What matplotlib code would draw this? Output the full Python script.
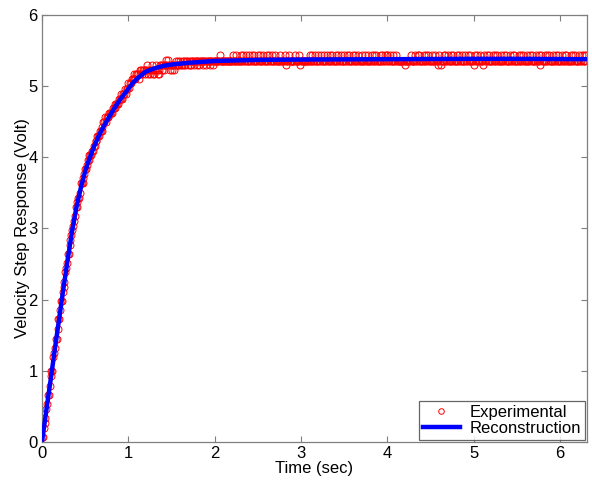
import numpy as np
import matplotlib

matplotlib.use("Agg")
import matplotlib.pyplot as plt

plt.rcParams["font.family"] = ["Liberation Sans", "DejaVu Sans"]

# ---------------------------------------------------------------------------
# Data
# ---------------------------------------------------------------------------

# Experimental samples, 0.01 s apart. Rise part typed as values (t = 0 .. 1.49 s)
SAMPLE_DT = 0.01
RISE_V = [
    0.07, 0.07, 0.20, 0.26, 0.33, 0.46, 0.53, 0.66, 0.66, 0.79,
    0.92, 0.99, 0.99, 1.19, 1.25, 1.32, 1.45, 1.45, 1.58, 1.72,
    1.72, 1.85, 1.98, 1.98, 2.11, 2.18, 2.24, 2.38, 2.44, 2.51,
    2.64, 2.64, 2.77, 2.84, 2.90, 2.97, 3.03, 3.10, 3.17, 3.30,
    3.30, 3.37, 3.43, 3.43, 3.50, 3.63, 3.63, 3.63, 3.70, 3.76,
    3.83, 3.83, 3.89, 3.96, 3.96, 4.03, 4.03, 4.03, 4.09, 4.09,
    4.16, 4.16, 4.22, 4.22, 4.29, 4.29, 4.29, 4.36, 4.36, 4.36,
    4.42, 4.49, 4.49, 4.56, 4.49, 4.56, 4.56, 4.56, 4.62, 4.62,
    4.62, 4.62, 4.69, 4.69, 4.69, 4.75, 4.75, 4.75, 4.75, 4.82,
    4.82, 4.82, 4.89, 4.82, 4.89, 4.89, 4.95, 4.89, 4.95, 4.95,
    5.04, 4.97, 5.04, 5.04, 5.10, 5.10, 5.10, 5.17, 5.10, 5.17,
    5.17, 5.17, 5.10, 5.17, 5.23, 5.23, 5.17, 5.23, 5.23, 5.17,
    5.23, 5.23, 5.30, 5.17, 5.23, 5.17, 5.23, 5.30, 5.23, 5.17,
    5.17, 5.23, 5.30, 5.23, 5.17, 5.23, 5.17, 5.30, 5.30, 5.23,
    5.30, 5.23, 5.30, 5.30, 5.36, 5.30, 5.36, 5.30, 5.23, 5.30,
]

# Plateau part (from t = 1.50 s on): quantised ADC readings, one code per sample
PLATEAU_START = 1.50
PLATEAU_LEVELS = {"4": 5.23, "5": 5.29, "6": 5.35, "7": 5.43}
PLATEAU_CODES = (
    "4554565565" "6556565665" "6565665665" "6656665666" "5666566656"
    "6666667666" "6666666666" "6766676666" "7667667666" "7667667666"
    "7667667666" "7667667666" "7666667666" "6756667666" "6667666675"
    "6666666666" "7667667666" "7667667666" "7667667666" "7667667666"
    "7667667666" "7667667666" "6766766766" "6676676766" "6676766767"
    "7667667666" "7666666666" "5666666766" "6676676766" "6676676766"
    "6676676656" "7656676766" "7667667666" "7667667666" "7667667666"
    "5766766766" "6576676766" "6676676766" "6676676766" "6676676766"
    "6676676766" "6676676766" "6676676576" "6676676766" "6676676766"
    "6676676766" "6676676766" "6676676766" "7"
)

# Reconstructed response (blue curve), knots
REC_T = [0.00, 0.05, 0.10, 0.15, 0.20, 0.25, 0.30, 0.35, 0.40, 0.45,
         0.50, 0.55, 0.60, 0.65, 0.70, 0.75, 0.80, 0.85, 0.90, 0.95,
         1.00, 1.05, 1.10, 1.15, 1.20, 1.30, 1.40, 1.50, 1.70, 2.00,
         2.50, 3.00, 4.00, 5.00, 5.50, 6.30]
REC_V = [0.00, 0.44, 0.87, 1.31, 1.74, 2.17, 2.58, 2.97, 3.30, 3.57,
         3.80, 3.98, 4.14, 4.28, 4.40, 4.51, 4.61, 4.71, 4.80, 4.88,
         4.96, 5.04, 5.10, 5.15, 5.20, 5.245, 5.28, 5.30, 5.325, 5.35,
         5.365, 5.37, 5.375, 5.38, 5.38, 5.375]

X_TICKS = [0, 1, 2, 3, 4, 5, 6]
Y_TICKS = [0, 1, 2, 3, 4, 5, 6]

AXIS_GREY = "#7f7f7f"

# ---------------------------------------------------------------------------
# Assemble the experimental series
# ---------------------------------------------------------------------------
rise_t = np.arange(len(RISE_V)) * SAMPLE_DT
plat_t = PLATEAU_START + np.arange(len(PLATEAU_CODES)) * SAMPLE_DT
plat_v = np.array([PLATEAU_LEVELS[c] for c in PLATEAU_CODES])

exp_t = np.concatenate([rise_t, plat_t])
exp_v = np.concatenate([np.array(RISE_V), plat_v])

# ---------------------------------------------------------------------------
# Plot
# ---------------------------------------------------------------------------
fig = plt.figure(figsize=(5.92, 4.83), dpi=100)
ax = fig.add_axes([0.0709, 0.0849, 0.9206, 0.8847])

ax.plot(exp_t, exp_v, linestyle="none", marker="o", markersize=5.0,
        markerfacecolor="none", markeredgecolor="#ff0000",
        markeredgewidth=0.7, label="Experimental", zorder=2)
ax.plot(REC_T, REC_V, color="#0000ff", linewidth=3.2,
        label="Reconstruction", zorder=3)

ax.set_xlim(0, 6.31)
ax.set_ylim(0, 6)
ax.set_xticks(X_TICKS)
ax.set_yticks(Y_TICKS)

for side in ax.spines.values():
    side.set_color(AXIS_GREY)
    side.set_linewidth(0.9)
ax.tick_params(direction="in", length=4.5, width=0.8, color=AXIS_GREY,
               labelsize=12, labelcolor="black", top=True, right=True, pad=3)

ax.set_xlabel("Time (sec)", fontsize=12, labelpad=0)
ax.set_ylabel("Velocity Step Response (Volt)", fontsize=12, labelpad=-1)

leg = ax.legend(loc="lower right", fontsize=12, frameon=True, fancybox=False,
                borderaxespad=0.1, handlelength=2.2, borderpad=0.25,
                labelspacing=0.05, handletextpad=0.6, markerscale=0.8)
leg.get_frame().set_edgecolor("#404040")
leg.get_frame().set_linewidth(0.9)

fig.savefig("out.png", dpi=100)
